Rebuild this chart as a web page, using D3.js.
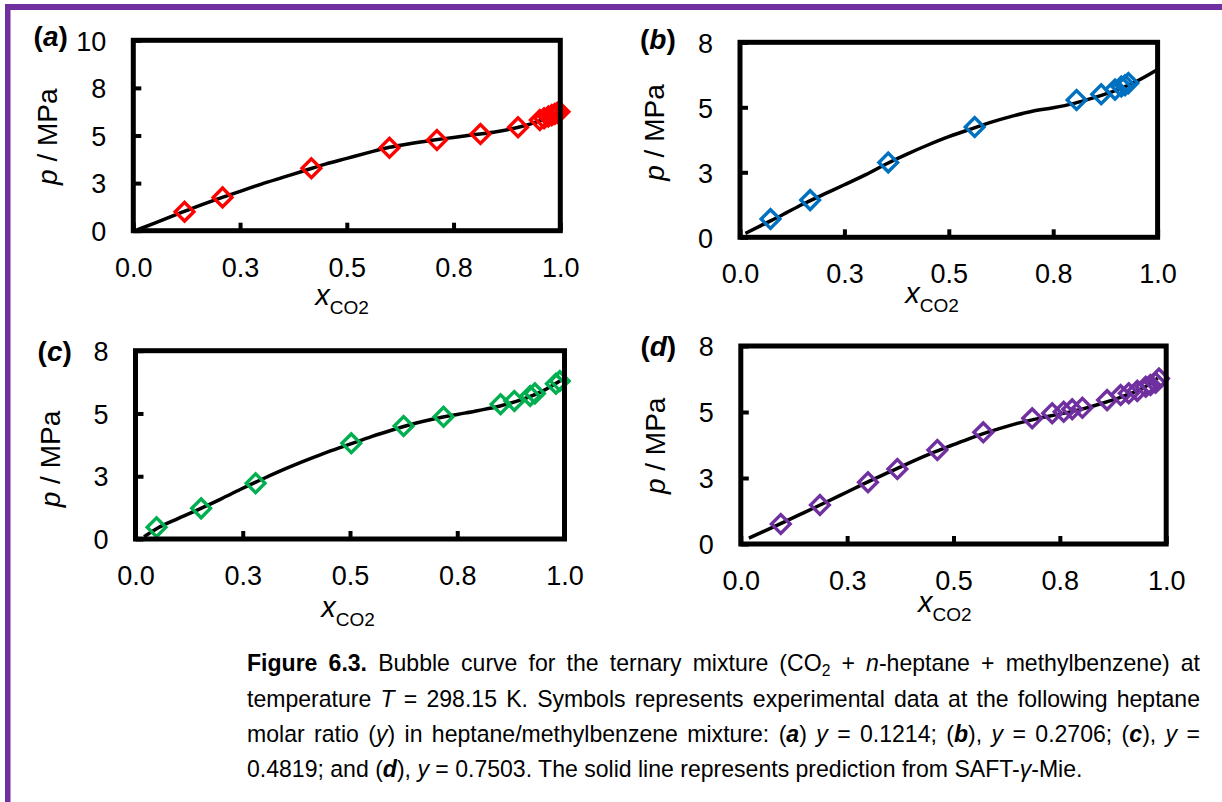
<!DOCTYPE html>
<html>
<head>
<meta charset="utf-8">
<script src="https://cdn.jsdelivr.net/npm/d3@7/dist/d3.min.js"></script>
<style>
  html, body { margin: 0; padding: 0; background: #fff; }
  svg { display: block; }
  text { font-family: "Liberation Sans", Arial, sans-serif; }
</style>
</head>
<body>
<svg id="chart" width="1222" height="802"></svg>
<script>
// ---------- data ----------
const xTickValues = [0, 0.25, 0.5, 0.75, 1];
const xTickLabels = ["0.0", "0.3", "0.5", "0.8", "1.0"];
const yTickValuesA = [0, 2.5, 5, 7.5, 10];
const yTickLabelsA = ["0", "3", "5", "8", "10"];
const yTickValuesBCD = [0, 2.5, 5, 7.5];
const yTickLabelsBCD = ["0", "3", "5", "8"];

// (a) y = 0.1214
const expA_x = [0.120, 0.209, 0.417, 0.600, 0.711, 0.813, 0.901, 0.952, 0.962, 0.972, 0.980, 0.987, 0.993, 0.998];
const expA_p = [1.00, 1.75, 3.28, 4.36, 4.76, 5.08, 5.43, 5.81, 5.90, 6.00, 6.07, 6.13, 6.20, 6.25];
const curveA_x = [0.01, 0.05, 0.1, 0.15, 0.2, 0.25, 0.3, 0.35, 0.4, 0.45, 0.5, 0.55, 0.6, 0.65, 0.7, 0.75, 0.8, 0.85, 0.9, 0.95, 0.98, 1.0];
const curveA_p = [0.05, 0.4, 0.85, 1.28, 1.68, 2.07, 2.45, 2.8, 3.15, 3.5, 3.8, 4.1, 4.38, 4.58, 4.75, 4.9, 5.05, 5.2, 5.42, 5.75, 6.05, 6.3];

// (b) y = 0.2706
const expB_x = [0.073, 0.168, 0.355, 0.562, 0.806, 0.865, 0.898, 0.913, 0.922, 0.930];
const expB_p = [0.70, 1.43, 2.88, 4.24, 5.28, 5.50, 5.68, 5.80, 5.85, 5.93];
const curveB_x = [0.013, 0.05, 0.1, 0.15, 0.2, 0.25, 0.3, 0.35, 0.4, 0.45, 0.5, 0.55, 0.6, 0.65, 0.7, 0.75, 0.8, 0.85, 0.9, 0.95, 1.0];
const curveB_p = [0.15, 0.45, 0.85, 1.27, 1.65, 2.02, 2.4, 2.82, 3.2, 3.55, 3.87, 4.15, 4.42, 4.65, 4.85, 4.98, 5.15, 5.38, 5.65, 6.0, 6.45];

// (c) y = 0.4819
const expC_x = [0.049, 0.153, 0.280, 0.503, 0.625, 0.718, 0.851, 0.883, 0.920, 0.931, 0.980, 0.989];
const expC_p = [0.47, 1.22, 2.22, 3.81, 4.50, 4.87, 5.37, 5.50, 5.70, 5.80, 6.18, 6.29];
const curveC_x = [0.02, 0.05, 0.1, 0.15, 0.2, 0.25, 0.3, 0.35, 0.4, 0.45, 0.5, 0.55, 0.6, 0.65, 0.7, 0.75, 0.8, 0.85, 0.9, 0.95, 0.99];
const curveC_p = [0.09, 0.42, 0.82, 1.2, 1.6, 2.02, 2.42, 2.8, 3.15, 3.48, 3.78, 4.08, 4.35, 4.6, 4.8, 4.96, 5.12, 5.3, 5.55, 5.9, 6.3];

// (d) y = 0.7503
const expD_x = [0.094, 0.186, 0.299, 0.368, 0.462, 0.570, 0.685, 0.732, 0.759, 0.779, 0.803, 0.861, 0.893, 0.912, 0.932, 0.952, 0.963, 0.975, 0.983];
const expD_p = [0.76, 1.48, 2.34, 2.84, 3.56, 4.23, 4.76, 4.95, 5.01, 5.10, 5.16, 5.45, 5.64, 5.71, 5.80, 5.96, 6.02, 6.11, 6.27];
const curveD_x = [0.019, 0.05, 0.1, 0.15, 0.2, 0.25, 0.3, 0.35, 0.4, 0.45, 0.5, 0.55, 0.6, 0.65, 0.7, 0.75, 0.8, 0.85, 0.9, 0.95, 0.98];
const curveD_p = [0.22, 0.45, 0.82, 1.2, 1.58, 1.97, 2.36, 2.73, 3.1, 3.45, 3.76, 4.07, 4.33, 4.57, 4.76, 4.92, 5.1, 5.33, 5.6, 5.95, 6.28];

const panelLetters = ["a", "b", "c", "d"];
const seriesColors = ["#FF0000", "#0070C0", "#00B050", "#7030A0"];

const captionLines = [
  [["Figure 6.3.", "b"], [" Bubble curve for the ternary mixture (CO", ""], ["2", "sub"], [" + ", ""], ["n", "i"], ["-heptane + methylbenzene) at", ""]],
  [["temperature ", ""], ["T", "i"], [" = 298.15 K. Symbols represents experimental data at the following heptane", ""]],
  [["molar ratio (", ""], ["y", "i"], [") in heptane/methylbenzene mixture: (", ""], ["a", "bi"], [") ", ""], ["y", "i"], [" = 0.1214; (", ""], ["b", "bi"], ["), ", ""], ["y", "i"], [" = 0.2706; (", ""], ["c", "bi"], ["), ", ""], ["y", "i"], [" =", ""]],
  [["0.4819; and (", ""], ["d", "bi"], ["), ", ""], ["y", "i"], [" = 0.7503. The solid line represents prediction from SAFT-", ""], ["\u03B3", "i"], ["-Mie.", ""]]
];

// ---------- layout ----------
const panels = [
  { left: 133.3, right: 560.3, top: 40.3, bottom: 230.7, yMax: 10, yT: yTickValuesA, yL: yTickLabelsA,
    ex: expA_x, ep: expA_p, cx: curveA_x, cp: curveA_p, yTitleC: 136.7, xTitleC: 342, xTitleB: 305, labX: 33.6, labC: 36.7 },
  { left: 740, right: 1157.6, top: 42.3, bottom: 237.3, yMax: 7.5, yT: yTickValuesBCD, yL: yTickLabelsBCD,
    ex: expB_x, ep: expB_p, cx: curveB_x, cp: curveB_p, yTitleC: 132.5, xTitleC: 932, xTitleB: 303, labX: 640, labC: 39 },
  { left: 135.5, right: 564.5, top: 350.7, bottom: 539, yMax: 7.5, yT: yTickValuesBCD, yL: yTickLabelsBCD,
    ex: expC_x, ep: expC_p, cx: curveC_x, cp: curveC_p, yTitleC: 459, xTitleC: 348, xTitleB: 616.7, labX: 37.6, labC: 351.7 },
  { left: 740.8, right: 1166.2, top: 346, bottom: 544, yMax: 7.5, yT: yTickValuesBCD, yL: yTickLabelsBCD,
    ex: expD_x, ep: expD_p, cx: curveD_x, cp: curveD_p, yTitleC: 445.8, xTitleC: 944.7, xTitleB: 611.7, labX: 640.4, labC: 346.7 }
];

const svg = d3.select("#chart");
svg.append("rect").attr("width", 1222).attr("height", 802).attr("fill", "#fff");

// purple frame
svg.append("rect").attr("x", 5).attr("y", 4).attr("width", 1217).attr("height", 6).attr("fill", "#7030A0");
svg.append("rect").attr("x", 5).attr("y", 4).attr("width", 5.5).attr("height", 798).attr("fill", "#7030A0");

const diamond = d3.symbol().type(d3.symbolSquare).size(175)();

panels.forEach((cfg, i) => {
  const g = svg.append("g");
  const x = d3.scaleLinear().domain([0, 1]).range([cfg.left, cfg.right]);
  const y = d3.scaleLinear().domain([0, cfg.yMax]).range([cfg.bottom, cfg.top]);

  // model curve
  g.append("path")
    .datum(d3.zip(cfg.cx, cfg.cp))
    .attr("d", d3.line().x(d => x(d[0])).y(d => y(d[1])).curve(d3.curveMonotoneX))
    .attr("fill", "none").attr("stroke", "#000").attr("stroke-width", 3.5)
    .attr("stroke-linejoin", "round");

  // experimental markers
  g.selectAll("path.pt").data(d3.zip(cfg.ex, cfg.ep)).join("path")
    .attr("class", "pt")
    .attr("d", diamond)
    .attr("transform", d => `translate(${x(d[0])},${y(d[1])}) rotate(45)`)
    .attr("fill", "none").attr("stroke", seriesColors[i]).attr("stroke-width", 3.4);

  // plot box
  g.append("rect")
    .attr("x", cfg.left).attr("y", cfg.top)
    .attr("width", cfg.right - cfg.left).attr("height", cfg.bottom - cfg.top)
    .attr("fill", "none").attr("stroke", "#000").attr("stroke-width", 5);

  // x axis
  const xa = g.append("g").attr("transform", `translate(0,${cfg.bottom})`)
    .call(d3.axisBottom(x).tickValues(xTickValues).tickFormat((d, k) => xTickLabels[k]).tickSizeInner(-8).tickSizeOuter(0));
  xa.select(".domain").remove();
  xa.selectAll(".tick line").attr("stroke", "#000").attr("stroke-width", 4);
  xa.selectAll(".tick text").attr("y", 46).attr("dy", null)
    .attr("font-size", 27).attr("font-family", "Liberation Sans, Arial, sans-serif").attr("fill", "#000");
  xa.attr("font-size", null).attr("font-family", null);

  // y axis
  const ya = g.append("g").attr("transform", `translate(${cfg.left},0)`)
    .call(d3.axisLeft(y).tickValues(cfg.yT).tickFormat((d, k) => cfg.yL[k]).tickSizeInner(-8).tickSizeOuter(0));
  ya.select(".domain").remove();
  ya.selectAll(".tick line").attr("stroke", "#000").attr("stroke-width", 4);
  ya.selectAll(".tick text").attr("x", -27).attr("dy", "0.36em")
    .attr("font-size", 27).attr("font-family", "Liberation Sans, Arial, sans-serif").attr("fill", "#000");
  ya.attr("font-size", null).attr("font-family", null);

  // y title
  const yt = g.append("text")
    .attr("transform", `translate(${cfg.left - 76},${cfg.yTitleC}) rotate(-90)`)
    .attr("text-anchor", "middle").attr("font-size", 28).attr("fill", "#000")
    .style("white-space", "pre");
  yt.append("tspan").attr("font-style", "italic").text("p");
  yt.append("tspan").text(" / MPa");

  // x title
  const xt = g.append("text")
    .attr("x", cfg.xTitleC).attr("y", cfg.xTitleB)
    .attr("text-anchor", "middle").attr("font-size", 29).attr("fill", "#000");
  xt.append("tspan").attr("font-style", "italic").text("x");
  xt.append("tspan").attr("font-size", 19).attr("dy", 9).text("CO2");

  // panel label
  const lab = g.append("text")
    .attr("x", cfg.labX).attr("y", cfg.labC + 9.5)
    .attr("font-size", 28).attr("font-weight", "bold").attr("fill", "#000");
  lab.append("tspan").text("(");
  lab.append("tspan").attr("font-style", "italic").text(panelLetters[i]);
  lab.append("tspan").text(")");
});

// ---------- caption ----------
const capX = 247, capRight = 1200, lastRight = 1083;
const capBase = [671, 707, 742, 777];
let capFs = 22;
const capTexts = captionLines.map((segs, li) => {
  const t = svg.append("text").attr("x", capX).attr("y", capBase[li])
    .attr("font-size", capFs).attr("fill", "#000").style("white-space", "pre");
  let shift = 0;
  segs.forEach(([s, st]) => {
    const ts = t.append("tspan").text(s);
    if (st === "b" || st === "bi") ts.attr("font-weight", "bold");
    if (st === "i" || st === "bi") ts.attr("font-style", "italic");
    if (st === "sub") { ts.attr("font-size", "0.68em").attr("dy", 5); shift = 5; }
    else if (shift) { ts.attr("dy", -shift); shift = 0; }
  });
  return t;
});
// size the caption font so that the last (unjustified) line ends where the reference does
const w4 = capTexts[3].node().getComputedTextLength();
capFs = capFs * (lastRight - capX) / w4;
capTexts.forEach(t => t.attr("font-size", capFs));
// justify the first three lines
capTexts.slice(0, 3).forEach(t => {
  const w = t.node().getComputedTextLength();
  const nSp = (t.text().match(/ /g) || []).length;
  t.style("word-spacing", ((capRight - capX - w) / nSp) + "px");
});
</script>
</body>
</html>
